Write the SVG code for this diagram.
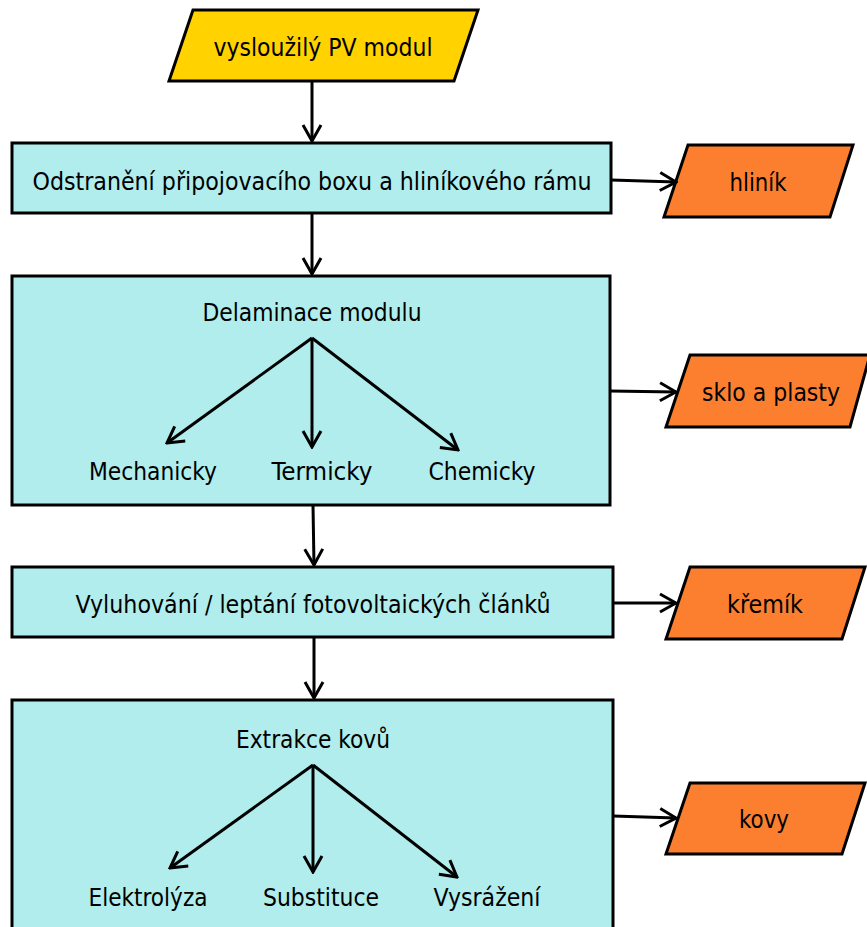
<svg xmlns="http://www.w3.org/2000/svg" width="867" height="927" viewBox="0 0 867 927">
<style>
.box{fill:#B0EDEC;stroke:#000;stroke-width:3}
.out{fill:#FC7F2F;stroke:#000;stroke-width:3;stroke-linejoin:miter}
.start{fill:#FFD200;stroke:#000;stroke-width:3}
text{font-family:"DejaVu Sans Condensed","DejaVu Sans",sans-serif;font-size:24px;fill:#000;text-anchor:middle}
.c line{stroke:#000;stroke-width:3;fill:none;marker-end:url(#ah)}
</style>
<defs>
<marker id="ah" markerWidth="20" markerHeight="22" viewBox="0 0 20 22" refX="18" refY="11" orient="auto" markerUnits="userSpaceOnUse">
<path d="M2,2 L18,11 L2,20" fill="none" stroke="#000" stroke-width="3"/>
</marker>
</defs>
<g id="n-start">
<polygon class="start" points="193,10 478,10 454,81 169,81"/>
<text x="323" y="56" textLength="219" lengthAdjust="spacingAndGlyphs">vysloužilý PV modul</text>
</g>
<g id="n-odstraneni">
<rect class="box" x="12" y="143" width="599" height="70"/>
<text x="312" y="190" textLength="559" lengthAdjust="spacingAndGlyphs">Odstranění připojovacího boxu a hliníkového rámu</text>
</g>
<g id="n-hlinik">
<polygon class="out" points="688,145 853,145 830,217 664,217"/>
<text x="758" y="191" textLength="57" lengthAdjust="spacingAndGlyphs">hliník</text>
</g>
<g id="n-delaminace">
<rect class="box" x="12" y="276" width="598" height="229"/>
<text x="312" y="321" textLength="219" lengthAdjust="spacingAndGlyphs">Delaminace modulu</text>
<text x="153" y="480" textLength="128" lengthAdjust="spacingAndGlyphs">Mechanicky</text>
<text x="322" y="480" textLength="101" lengthAdjust="spacingAndGlyphs">Termicky</text>
<text x="482" y="480" textLength="107" lengthAdjust="spacingAndGlyphs">Chemicky</text>
</g>
<g id="n-sklo">
<polygon class="out" points="690,355 870,355 850,427 666,427"/>
<text x="771" y="401" textLength="138" lengthAdjust="spacingAndGlyphs">sklo a plasty</text>
</g>
<g id="n-vyluhovani">
<rect class="box" x="12" y="567" width="601" height="70"/>
<text x="313" y="613" textLength="475" lengthAdjust="spacingAndGlyphs">Vyluhování / leptání fotovoltaických článků</text>
</g>
<g id="n-kremik">
<polygon class="out" points="690,567 865,567 842,639 666,639"/>
<text x="765" y="613" textLength="76" lengthAdjust="spacingAndGlyphs">křemík</text>
</g>
<g id="n-extrakce">
<rect class="box" x="12" y="700" width="601" height="240"/>
<text x="313" y="748" textLength="154" lengthAdjust="spacingAndGlyphs">Extrakce kovů</text>
<text x="148" y="906" textLength="119" lengthAdjust="spacingAndGlyphs">Elektrolýza</text>
<text x="321" y="906" textLength="116" lengthAdjust="spacingAndGlyphs">Substituce</text>
<text x="487" y="906" textLength="107" lengthAdjust="spacingAndGlyphs">Vysrážení</text>
</g>
<g id="n-kovy">
<polygon class="out" points="690,783 865,783 842,854 666,854"/>
<text x="764" y="828" textLength="50" lengthAdjust="spacingAndGlyphs">kovy</text>
</g>
<g id="connectors" class="c">
<line x1="312" y1="81" x2="312" y2="141"/>
<line x1="611" y1="180" x2="676" y2="182"/>
<line x1="312" y1="213" x2="312" y2="274"/>
<line x1="312" y1="338" x2="167" y2="443"/>
<line x1="312" y1="338" x2="312" y2="447"/>
<line x1="312" y1="338" x2="458" y2="450"/>
<line x1="610" y1="391" x2="676" y2="392"/>
<line x1="313" y1="505" x2="314" y2="565"/>
<line x1="613" y1="603" x2="676" y2="603"/>
<line x1="314" y1="637" x2="314" y2="698"/>
<line x1="313" y1="765" x2="170" y2="868"/>
<line x1="313" y1="765" x2="313" y2="872"/>
<line x1="313" y1="765" x2="457" y2="877"/>
<line x1="613" y1="816" x2="676" y2="818"/>
</g>
</svg>
